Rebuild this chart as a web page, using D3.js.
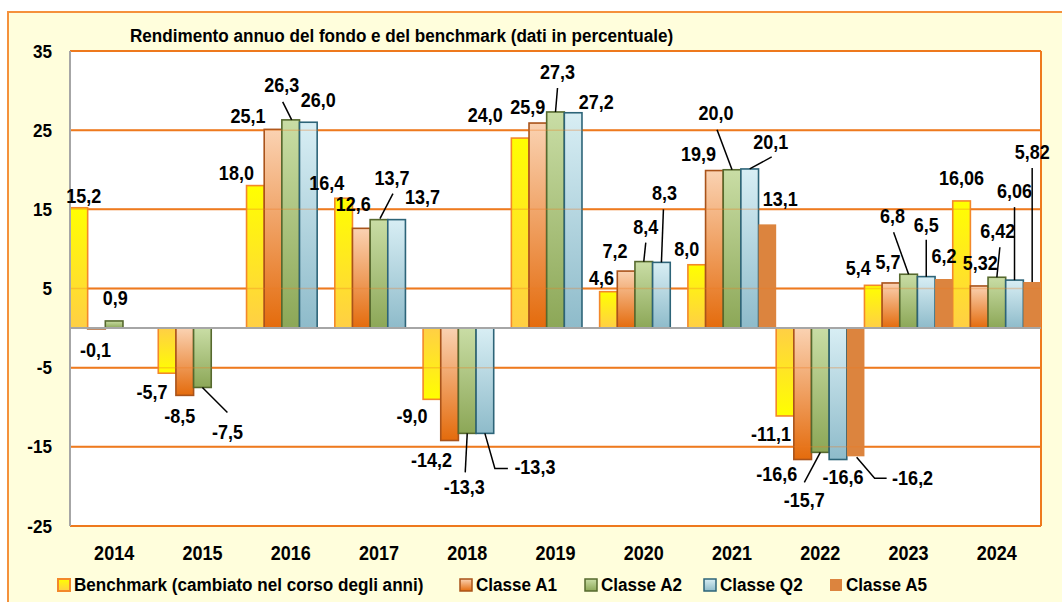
<!DOCTYPE html>
<html>
<head>
<meta charset="utf-8">
<script src="https://d3js.org/d3.v7.min.js"></script>
<style>
  body { margin: 0; background: #fff; }
  text { font-family: "Liberation Sans", Arial, sans-serif; font-weight: bold; fill: #000; }
</style>
</head>
<body>
<script>
// dati
var years = ['2014', '2015', '2016', '2017', '2018', '2019', '2020', '2021', '2022', '2023', '2024'];
var benchmark = [15.2, -5.7, 18.0, 16.4, -9.0, 24.0, 4.6, 8.0, -11.1, 5.4, 16.06];
var classeA1 = [-0.1, -8.5, 25.1, 12.6, -14.2, 25.9, 7.2, 19.9, -16.6, 5.7, 5.32];
var classeA2 = [0.9, -7.5, 26.3, 13.7, -13.3, 27.3, 8.4, 20.0, -15.7, 6.8, 6.42];
var classeQ2 = [null, null, 26.0, 13.7, -13.3, 27.2, 8.3, 20.1, -16.6, 6.5, 6.06];
var classeA5 = [null, null, null, null, null, null, null, 13.1, -16.2, 6.2, 5.82];
var seriesNames = ['Benchmark (cambiato nel corso degli anni)', 'Classe A1', 'Classe A2', 'Classe Q2', 'Classe A5'];
var decimals = [1, 1, 1, 1, 1, 1, 1, 1, 1, 1, 2];
var yTicks = [35, 25, 15, 5, -5, -15, -25];
var title = 'Rendimento annuo del fondo e del benchmark (dati in percentuale)';

var allSeries = [benchmark, classeA1, classeA2, classeQ2, classeA5];

// posizione delle etichette rispetto alla cima della barra: [dx, dy, linea guida]
var labelPos = [
  [[5,-5],[-15,26],[-19,-6],[-17,-8],[-20,24],[-35,-16],[-7,-7],[-10,-9],[-14,25],[-15,-10],[0,-16]],
  [[-1,28],[-5,28],[-25,-6],[-8,-17],[-18,26],[-10,-9],[-11,-13],[-16,-10],[-26,21],[-3,-14],[1,-16]],
  [[1,-16],[25,52,[[0,0],[25,25]]],[-9,-28,[[1,0],[-8,-18]]],[13,-35,[[1,-1],[14,-26]]],[-3,61,[[0,0],[-2,39]]],
   [2,-33,[[0,0],[2,-24]]],[2,-28,[[0,0],[2,-19]]],[-16,-50,[[0,0],[-15,-40]]],[-16,55,[[0,0],[-16,30]]],
   [-16,-51,[[0,0],[-15,-42]]],[1,-39,[[0,0],[3,-30]]]],
  [null,null,[10,-15],[26,-16],[50,41,[[0,0],[10,35],[23,35]]],[23,-4],[3,-62,[[0,0],[2,-53]]],
   [21,-20,[[0,0],[22,-12]]],[5,24],[0,-45,[[0,0],[0,-37]]],[0,-82,[[0,0],[0,-73]]]],
  [null,null,null,null,null,null,null,[13,-18],[57,29,[[1,1],[19,22],[31,22]]],[0,-16],[0,-123,[[0,0],[0,-114]]]]
];

var width = 1062, height = 602;
var plot = {left: 70, right: 1041, top: 51, bottom: 526};
var narrow = 0.9;

var svg = d3.select('body').append('svg').attr('width', width).attr('height', height);

// testo stretto: scala orizzontale attorno al punto di ancoraggio
function condense(sel) {
  sel.each(function() {
    var t = d3.select(this);
    var tx = +t.attr('x') || 0, ty = +t.attr('y') || 0;
    t.attr('transform', 'translate(' + tx + ',' + ty + ') scale(' + narrow + ',1)').attr('x', 0).attr('y', 0);
  });
}

// sfondo esterno
svg.append('rect').attr('x', 8).attr('y', 12).attr('width', 1100).attr('height', 640)
  .attr('fill', '#FFFEDC').attr('stroke', '#F5913C').attr('stroke-width', 2);
svg.append('rect').attr('x', plot.left).attr('y', plot.top)
  .attr('width', plot.right - plot.left).attr('height', plot.bottom - plot.top).attr('fill', '#fff');

// gradienti
var defs = svg.append('defs');
function grad(id, top, bottom) {
  var g = defs.append('linearGradient').attr('id', id).attr('x1', 0).attr('y1', 0).attr('x2', 0).attr('y2', 1);
  g.append('stop').attr('offset', '0%').attr('stop-color', top);
  g.append('stop').attr('offset', '100%').attr('stop-color', bottom);
}
grad('g0', '#FFFF00', '#FFCF45');
grad('g0n', '#FFCF45', '#FFFF00');
grad('g1', '#FAD2B2', '#E46B0C');
grad('g2', '#C9DDA5', '#8CA757');
grad('g3', '#D8EEF4', '#8EBBCA');
var fills = ['url(#g0)', 'url(#g1)', 'url(#g2)', 'url(#g3)', '#DC843E'];
var strokes = ['#F3882A', '#A9531A', '#56692E', '#2D6478', 'none'];

var x = d3.scaleBand().domain(years).range([plot.left, plot.right]).padding(0);
var xs = d3.scaleBand().domain(d3.range(5)).range([0, x.bandwidth()]).padding(0);
var y = d3.scaleLinear().domain([-25, 35]).range([plot.bottom, plot.top]);

// griglia
svg.append('g').selectAll('line').data(yTicks).enter().append('line')
  .attr('x1', plot.left).attr('x2', plot.right)
  .attr('y1', function(d){ return y(d); }).attr('y2', function(d){ return y(d); })
  .attr('stroke', '#EE7A1E').attr('stroke-width', 2);
svg.append('line').attr('x1', plot.right).attr('x2', plot.right).attr('y1', plot.top).attr('y2', plot.bottom)
  .attr('stroke', '#EE7A1E').attr('stroke-width', 2);

// barre
allSeries.forEach(function(vals, s) {
  var data = vals.map(function(v, i){ return {v: v, i: i}; }).filter(function(d){ return d.v !== null; });
  svg.append('g').selectAll('rect').data(data).enter().append('rect')
    .attr('x', function(d){ return x(years[d.i]) + xs(s); })
    .attr('width', xs.bandwidth())
    .attr('y', function(d){ return Math.min(y(d.v), y(0)); })
    .attr('height', function(d){ return Math.abs(y(d.v) - y(0)); })
    .attr('fill', function(d){ return (s === 0 && d.v < 0) ? 'url(#g0n)' : fills[s]; })
    .attr('stroke', strokes[s]).attr('stroke-width', 1.6);
});

// griglia in trasparenza sopra le barre
svg.append('g').selectAll('line').data(yTicks).enter().append('line')
  .attr('x1', plot.left).attr('x2', plot.right)
  .attr('y1', function(d){ return y(d); }).attr('y2', function(d){ return y(d); })
  .attr('stroke', '#EE7A1E').attr('stroke-width', 1.5).attr('opacity', 0.3);

// asse zero e asse sinistro
svg.append('line').attr('x1', plot.left).attr('x2', plot.right).attr('y1', y(0)).attr('y2', y(0))
  .attr('stroke', '#A6A6A6').attr('stroke-width', 2);
svg.append('line').attr('x1', plot.left).attr('x2', plot.left).attr('y1', plot.top).attr('y2', plot.bottom)
  .attr('stroke', '#A6A6A6').attr('stroke-width', 2);

// assi
var yAxis = svg.append('g').attr('transform', 'translate(' + plot.left + ',0)')
  .call(d3.axisLeft(y).tickValues(yTicks).tickSize(0).tickPadding(18).tickFormat(function(d){ return String(d); }));
yAxis.select('.domain').remove();
yAxis.selectAll('text').style('font-size', '19px').attr('fill', '#000').call(condense);

var xAxis = svg.append('g').attr('transform', 'translate(0,' + plot.bottom + ')')
  .call(d3.axisBottom(x).tickSize(0).tickPadding(20));
xAxis.select('.domain').remove();
xAxis.selectAll('text').style('font-size', '20px').attr('fill', '#000').call(condense);

// etichette dei valori
function fmt(v, i) { return v.toFixed(decimals[i]).replace('.', ','); }
var lab = svg.append('g');
allSeries.forEach(function(vals, s) {
  vals.forEach(function(v, i) {
    if (v === null) return;
    var p = labelPos[s][i];
    var cx = x(years[i]) + xs(s) + xs.bandwidth() / 2, cy = y(v);
    if (p[2]) {
      lab.append('polyline')
        .attr('points', p[2].map(function(q){ return (cx + q[0]) + ',' + (cy + q[1]); }).join(' '))
        .attr('fill', 'none').attr('stroke', '#000').attr('stroke-width', 1.5);
    }
    lab.append('text').attr('x', cx + p[0]).attr('y', cy + p[1])
      .attr('text-anchor', 'middle').style('font-size', '20px').text(fmt(v, i));
  });
});
lab.selectAll('text').call(condense);

// titolo
svg.append('text').attr('x', 130).attr('y', 42).style('font-size', '19px').text(title).call(condense);

// legenda
var legX = [57, 459, 584, 703, 829];
var leg = svg.append('g');
seriesNames.forEach(function(name, s) {
  leg.append('rect').attr('x', legX[s] + 1).attr('y', 579).attr('width', 12).attr('height', 12)
    .attr('fill', fills[s]).attr('stroke', strokes[s]).attr('stroke-width', s === 0 ? 2 : 1.5);
  leg.append('text').attr('x', legX[s] + 17).attr('y', 591).style('font-size', '19px').text(name).call(condense);
});
</script>
</body>
</html>
